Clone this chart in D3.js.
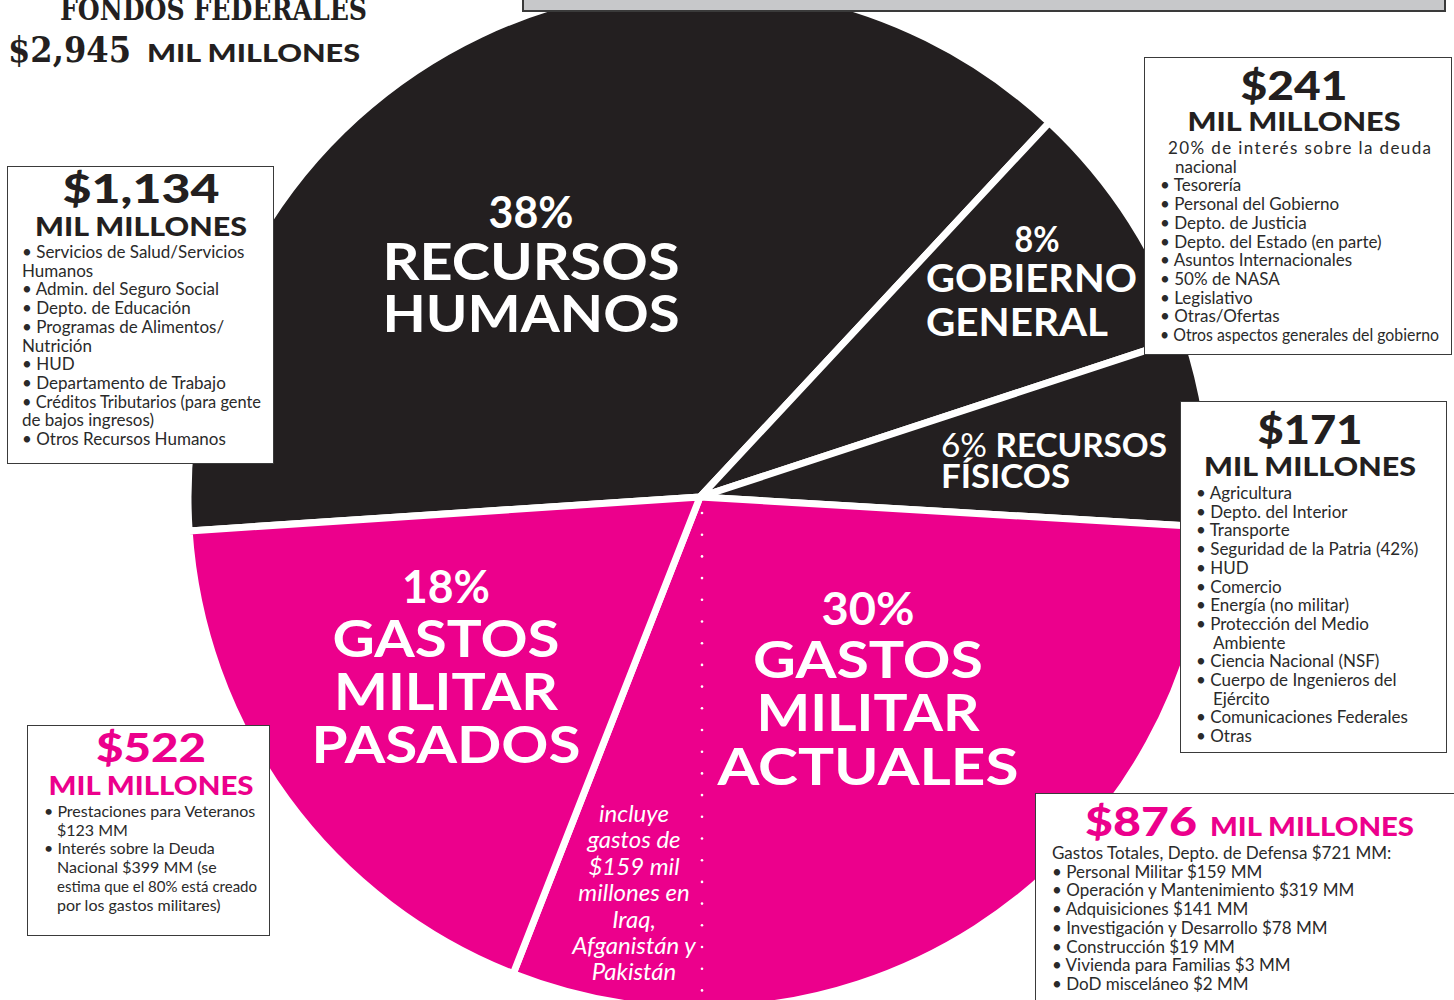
<!DOCTYPE html>
<html>
<head>
<meta charset="utf-8">
<title>Fondos federales</title>
<style>
body { margin: 0; background: #fff; }
svg { display: block; }
</style>
</head>
<body>
<div id="container"></div>
<script src="https://d3js.org/d3.v7.min.js"></script>
<script>
// Slices, in drawing order (clockwise)
const categories = ["RECURSOS HUMANOS", "GOBIERNO GENERAL", "RECURSOS FÍSICOS", "GASTOS MILITAR ACTUALES", "GASTOS MILITAR PASADOS"];
const percents = [38, 8, 6, 30, 18];
const amounts = ["$1,134", "$241", "$171", "$876", "$522"];
const military = [false, false, false, true, true];
const total = "$2,945";

const humanosItems = [
  "• Servicios de Salud/Servicios", "Humanos", "• Admin. del Seguro Social", "• Depto.  de Educación",
  "• Programas de Alimentos/", "Nutrición", "• HUD", "• Departamento de Trabajo",
  "• Créditos Tributarios (para gente", "de bajos ingresos)", "• Otros Recursos Humanos"
];
const gobiernoItems = [
  "20% de interés sobre la deuda", "nacional", "• Tesorería", "• Personal  del Gobierno", "• Depto. de Justicia",
  "• Depto. del Estado  (en parte)", "• Asuntos Internacionales", "• 50% de NASA", "• Legislativo",
  "• Otras/Ofertas", "• Otros aspectos generales del gobierno"
];
const fisicosItems = [
  "• Agricultura", "• Depto. del Interior", "• Transporte", "• Seguridad de la Patria (42%)", "• HUD",
  "• Comercio", "• Energía (no militar)", "• Protección del Medio", "Ambiente", "• Ciencia Nacional (NSF)",
  "• Cuerpo de Ingenieros del", "Ejército", "• Comunicaciones Federales", "• Otras"
];
const actualesItems = [
  "Gastos Totales, Depto. de Defensa  $721 MM:", "• Personal Militar  $159 MM", "• Operación y Mantenimiento $319 MM",
  "• Adquisiciones  $141 MM", "• Investigación y Desarrollo  $78 MM", "• Construcción  $19 MM",
  "• Vivienda para Familias $3 MM", "• DoD misceláneo $2 MM"
];
const pasadosItems = [
  "• Prestaciones para Veteranos", "$123 MM", "• Interés sobre la Deuda", "Nacional $399 MM (se",
  "estima que el 80% está creado", "por los gastos militares)"
];
const iraqNote = ["incluye", "gastos de", "$159 mil", "millones en", "Iraq,", "Afganistán y", "Pakistán"];

const width = 1454;
const height = 1000;
const cx = 700, cy = 497, radius = 512;
const BLACK = "#231f20", PINK = "#ec008c";
const bodyFont = "Lato, 'Open Sans', sans-serif";
const heavyFont = "Lato, Roboto, 'DejaVu Sans', sans-serif";

const data = categories.map((c, i) => ({ name: c, pct: percents[i], amount: amounts[i], military: military[i] }));

const color = d3.scaleOrdinal().domain([false, true]).range([BLACK, PINK]);
const start = -93.8 * Math.PI / 180;
const pie = d3.pie().sort(null).value(d => d.pct).startAngle(start).endAngle(start + 2 * Math.PI);
const arc = d3.arc().innerRadius(0).outerRadius(radius);

const svg = d3.create("svg").attr("width", width).attr("height", height)
  .attr("viewBox", [0, 0, width, height]);
document.getElementById("container").append(svg.node());

// pie
const g = svg.append("g").attr("transform", `translate(${cx},${cy})`);
g.selectAll("path").data(pie(data)).join("path")
  .attr("d", arc)
  .attr("fill", d => color(d.data.military))
  .attr("stroke", "#fff")
  .attr("stroke-width", 7)
  .attr("stroke-linejoin", "round");

// text helper
function txt(parent, s, x, y, o = {}) {
  const t = parent.append("text")
    .attr("x", x).attr("y", y)
    .attr("font-family", o.family || bodyFont)
    .attr("font-size", o.size || 17)
    .attr("font-weight", o.weight || 400)
    .attr("font-style", o.style || "normal")
    .attr("fill", o.fill || BLACK)
    .attr("text-anchor", o.anchor || "start")
    .text(s);
  if (o.w) t.attr("textLength", o.w).attr("lengthAdjust", o.adjust || "spacingAndGlyphs");
  return t;
}

// white labels on the slices
const labels = [
  { x: 531, anchor: "middle", lines: [["38%", 228, 44, 85], ["RECURSOS", 280, 52, 297], ["HUMANOS", 332, 52, 297]] },
  { x: 1037, anchor: "middle", lines: [["8%", 252, 36, 45]] },
  { x: 926, anchor: "start", lines: [["GOBIERNO", 292, 39, 211], ["GENERAL", 336, 39, 182]] },
  { x: 941, anchor: "start", lines: [["FÍSICOS", 488, 32, 129]] },
  { x: 446, anchor: "middle", lines: [["18%", 603, 45, 88], ["GASTOS", 657, 52, 227], ["MILITAR", 710, 52, 224], ["PASADOS", 763, 52, 269]] },
  { x: 868, anchor: "middle", lines: [["30%", 625, 45, 93], ["GASTOS", 678, 52, 230], ["MILITAR", 731, 52, 223], ["ACTUALES", 785, 52, 301]] }
];
labels.forEach(l => l.lines.forEach(([s, y, size, w]) =>
  txt(svg, s, l.x, y, { anchor: l.anchor, size, w, weight: 700, fill: "#fff" })));
// "6% RECURSOS" with lighter percent
const fr = svg.append("text").attr("x", 941).attr("y", 457)
  .attr("font-family", bodyFont).attr("font-size", 32).attr("fill", "#fff")
  .attr("textLength", 226).attr("lengthAdjust", "spacingAndGlyphs");
fr.append("tspan").attr("font-weight", 400).text("6% ");
fr.append("tspan").attr("font-weight", 700).text("RECURSOS");

// dotted divider inside the current military slice
const dots = d3.range(513, 995, 21.7);
svg.append("g").selectAll("circle").data(dots).join("circle")
  .attr("cx", 702).attr("cy", d => d).attr("r", 1.3).attr("fill", "#fff");

// Iraq note
iraqNote.forEach((s, i) => txt(svg, s, 634, 822 + i * 26.4, { anchor: "middle", size: 24, style: "italic", fill: "#fff", weight: 400 }));

// grey banner at top
svg.append("rect").attr("x", 523).attr("y", -10).attr("width", 922).attr("height", 21)
  .attr("fill", "#c7c8ca").attr("stroke", "#3a3a3a").attr("stroke-width", 2);

// title
txt(svg, "FONDOS FEDERALES", 60, 20, { family: "'DejaVu Serif', serif", weight: 700, size: 30, w: 307 });
txt(svg, total, 8, 62, { family: "'DejaVu Serif', serif", weight: 700, size: 36, w: 123 });
txt(svg, "MIL MILLONES", 147, 62, { family: heavyFont, weight: 900, size: 25, w: 213 });

// boxes
const boxes = [
  { i: 0, x: 7, y: 166, w: 266, h: 297, cx: 141, ay: 203, aw: 157, my: 236, mw: 212, items: humanosItems, ix: 22, indent: 0, iy: 258, size: 17 },
  { i: 1, x: 1144, y: 57, w: 307, h: 297, cx: 1294, ay: 100, aw: 107, my: 131, mw: 213, items: gobiernoItems, ix: 1160, indent: 15, iy: 154, size: 17 },
  { i: 2, x: 1180, y: 401, w: 266, h: 351, cx: 1310, ay: 444, aw: 105, my: 476, mw: 212, items: fisicosItems, ix: 1196, indent: 17, iy: 499, size: 17 },
  { i: 4, x: 27, y: 725, w: 242, h: 210, cx: 151, ay: 762, aw: 110, my: 795, mw: 205, items: pasadosItems, ix: 44, indent: 13, iy: 817, size: 16 },
  { i: 3, x: 1035, y: 793, w: 430, h: 230, items: actualesItems, ix: 1052, indent: 0, iy: 859, size: 17 }
];
boxes.forEach(b => {
  const d = data[b.i];
  const fill = d.military ? PINK : BLACK;
  svg.append("rect").attr("x", b.x + 0.5).attr("y", b.y + 0.5).attr("width", b.w).attr("height", b.h)
    .attr("fill", "#fff").attr("stroke", "#3a3a3a").attr("stroke-width", 1);
  if (b.i === 3) {
    txt(svg, d.amount, 1085, 836, { family: heavyFont, weight: 900, size: 40, w: 112, fill });
    txt(svg, "MIL MILLONES", 1210, 836, { family: heavyFont, weight: 900, size: 27, w: 204, fill });
  } else {
    txt(svg, d.amount, b.cx, b.ay, { family: heavyFont, weight: 900, size: 40, w: b.aw, anchor: "middle", fill });
    txt(svg, "MIL MILLONES", b.cx, b.my, { family: heavyFont, weight: 900, size: 27, w: b.mw, anchor: "middle", fill });
  }
  const right = b.x + b.w - 12;
  b.items.forEach((s, k) => {
    const bullet = s.startsWith("•");
    let x = bullet || k === 0 ? b.ix : b.ix + b.indent;
    if (b.i === 1 && k === 0) x = 1168;
    const t = txt(svg, s, x, b.iy + k * 18.7, { size: b.size, fill: "#2a2a2a" });
    if (b.i === 1 && k === 0) t.attr("textLength", 263).attr("lengthAdjust", "spacing");
    else if (x + t.node().getComputedTextLength() > right)
      t.attr("textLength", right - x).attr("lengthAdjust", "spacingAndGlyphs");
  });
});
</script>
</body>
</html>
